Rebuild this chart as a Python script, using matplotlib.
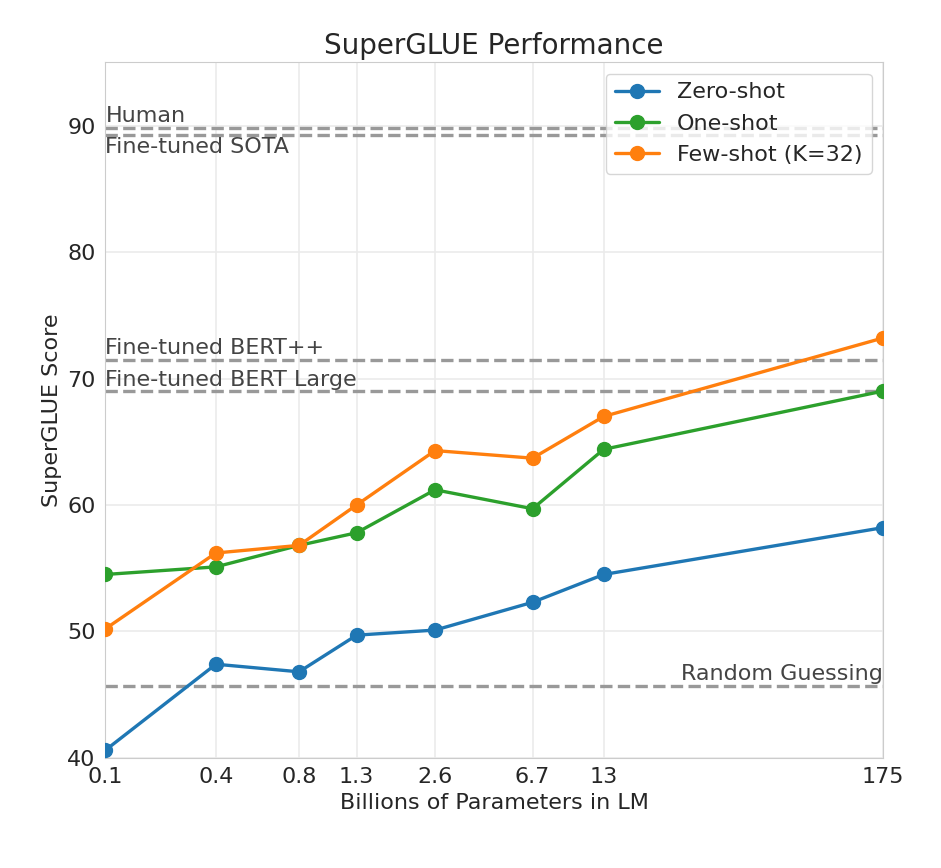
import matplotlib
matplotlib.use("Agg")
import matplotlib.pyplot as plt
import seaborn as sns

sns.set_style("whitegrid")
plt.rcParams['font.family'] = ['DejaVu Sans']

params = [0.125, 0.35, 0.76, 1.3, 2.7, 6.7, 13, 175]
tick_labels = ["0.1", "0.4", "0.8", "1.3", "2.6", "6.7", "13", "175"]
zero_shot = [40.6, 47.4, 46.8, 49.7, 50.1, 52.3, 54.5, 58.2]
one_shot = [54.5, 55.1, 56.8, 57.8, 61.2, 59.7, 64.4, 69.0]
few_shot = [50.2, 56.2, 56.8, 60.0, 64.3, 63.7, 67.0, 73.2]

ref_names = ["Human", "Fine-tuned SOTA", "Fine-tuned BERT++", "Fine-tuned BERT Large", "Random Guessing"]
ref_values = [89.8, 89.3, 71.5, 69.0, 45.7]

fig, ax = plt.subplots(figsize=(9.41, 8.68), dpi=100)
ax.set_xscale("log")
ax.grid(color="#ebebeb", lw=1.2)

for v in ref_values:
    ax.axhline(v, color="#999999", ls="--", lw=2.4, zorder=1)

x0 = params[0]
fs = 16
ax.text(x0, ref_values[0] + 0.2, ref_names[0], fontsize=fs, color="#444444", va="bottom")
ax.text(x0, ref_values[1] - 0.2, ref_names[1], fontsize=fs, color="#444444", va="top")
ax.text(x0, ref_values[2] + 0.1, ref_names[2], fontsize=fs, color="#444444", va="bottom")
ax.text(x0, ref_values[3] + 0.1, ref_names[3], fontsize=fs, color="#444444", va="bottom")
ax.text(params[-1], ref_values[4] + 0.1, ref_names[4], fontsize=fs, color="#444444",
        va="bottom", ha="right")

ax.plot(params, zero_shot, "-o", color="#1f77b4", lw=2.4, ms=10, label="Zero-shot", zorder=3)
ax.plot(params, one_shot, "-o", color="#2ca02c", lw=2.4, ms=10, label="One-shot", zorder=3)
ax.plot(params, few_shot, "-o", color="#ff7f0e", lw=2.4, ms=10, label="Few-shot (K=32)", zorder=3)

ax.set_xlim(params[0], params[-1])
ax.set_ylim(40, 95)
ax.set_xticks(params)
ax.set_xticklabels(tick_labels)
ax.minorticks_off()
ax.tick_params(labelsize=16)
ax.set_xlabel("Billions of Parameters in LM", fontsize=16)
ax.set_ylabel("SuperGLUE Score", fontsize=16)
ax.set_title("SuperGLUE Performance", fontsize=20)
ax.legend(loc="upper right", fontsize=16, frameon=True)

fig.subplots_adjust(left=0.112, right=0.938, top=0.928, bottom=0.127)
fig.savefig("out.png", dpi=100)
